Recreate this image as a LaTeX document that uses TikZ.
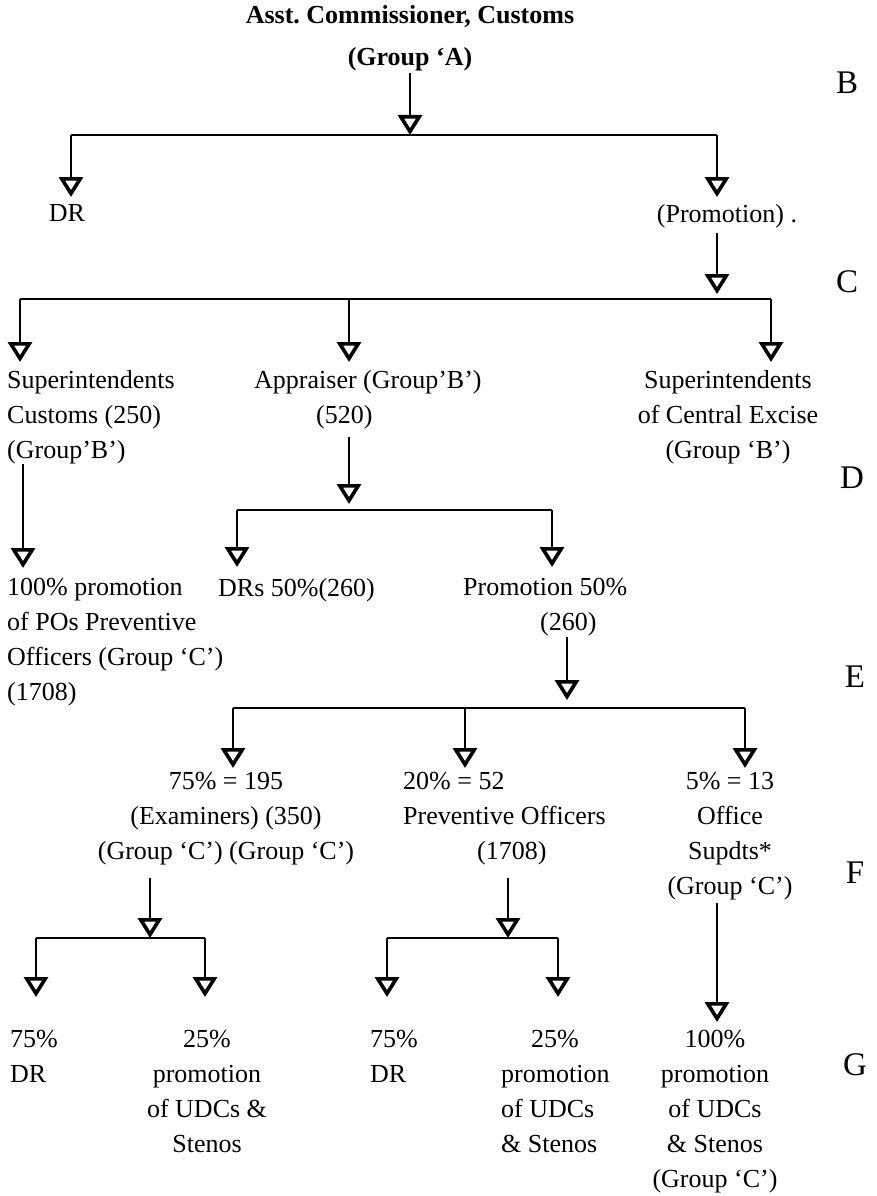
\documentclass[tikz,border=0pt]{standalone}
\usepackage{fontspec}
\setmainfont{Liberation Serif}
\usetikzlibrary{arrows.meta}
\frenchspacing
\begin{document}
\begin{tikzpicture}[x=1pt,y=-1pt,
  txt/.style={font=\fontsize{26}{35}\selectfont, inner sep=0pt},
  ttl/.style={font=\bfseries\fontsize{26}{42}\selectfont, inner sep=0pt, align=center},
  lvl/.style={font=\fontsize{33}{40}\selectfont, inner sep=0pt},
  bus/.style={line width=2.8pt},
  arr/.style={line width=2.6pt, -{Triangle[open,width=24pt,length=20pt,line width=3.6pt]}},
]
\useasboundingbox (0,0) rectangle (876,1196);

% ---- texts ----
\node[ttl, anchor=north] (title) at (410,5.4) {Asst. Commissioner, Customs\\(Group ‘A)};
\node[txt, anchor=north] (dr) at (67,204) {DR};
\node[txt, anchor=north] (prom) at (727,204) {(Promotion) .};
\node[txt, anchor=north west, align=left] (supC) at (7,370.4) {Superintendents\\Customs (250)\\(Group’B’)};
\node[txt, anchor=north west, align=left] (appr) at (254,370.4) {Appraiser (Group’B’)\\\hspace*{62pt}(520)};
\node[txt, anchor=north, align=center] (supE) at (728,370.4) {Superintendents\\of Central Excise\\(Group ‘B’)};
\node[txt, anchor=north west, align=left] (poC) at (7,578.4) {100\% promotion\\of POs Preventive\\Officers (Group ‘C’)\\(1708)};
\node[txt, anchor=north west] (drs) at (218,578.4) {DRs 50\%(260)};
\node[txt, anchor=north west, align=left] (prom50) at (463,578.4) {Promotion 50\%\\\hspace*{77pt}(260)};
\node[txt, anchor=north, align=center] (exam) at (226,772.4) {75\% = 195\\(Examiners) (350)\\(Group ‘C’) (Group ‘C’)};
\node[txt, anchor=north west, align=left] (prev) at (403,772.4) {20\% = 52\\Preventive Officers\\\hspace*{74pt}(1708)};
\node[txt, anchor=north, align=center] (off) at (730,772.4) {5\% = 13\\Office\\Supdts*\\(Group ‘C’)};
\node[txt, anchor=north west, align=left] (bA) at (10,1030.4) {75\%\\DR};
\node[txt, anchor=north, align=center] (bB) at (207,1030.4) {25\%\\promotion\\of UDCs \&\\Stenos};
\node[txt, anchor=north west, align=left] (bC) at (370,1030.4) {75\%\\DR};
\node[txt, anchor=north west, align=left] (bD) at (501,1030.4) {\hspace*{30pt}25\%\\promotion\\of UDCs\\\& Stenos};
\node[txt, anchor=north, align=center] (bE) at (715,1030.4) {100\%\\promotion\\of UDCs\\\& Stenos\\(Group ‘C’)};

% ---- level letters ----
\node[lvl] (lB) at (847,83) {B};
\node[lvl] (lC) at (847,282) {C};
\node[lvl] (lD) at (852,478) {D};
\node[lvl] (lE) at (855,677) {E};
\node[lvl] (lF) at (855,873) {F};
\node[lvl] (lG) at (855,1065) {G};

% ---- coordinates ----
\coordinate (b1L) at (71,135);  \coordinate (b1M) at (410,135); \coordinate (b1R) at (717,135);
\coordinate (t1L) at (71,197);  \coordinate (t1R) at (717,197);
\coordinate (b2L) at (20,299);  \coordinate (b2C) at (349,299); \coordinate (b2M) at (717,299); \coordinate (b2R) at (771,299);
\coordinate (t2L) at (20,362);  \coordinate (t2C) at (349,362); \coordinate (t2R) at (771,362);
\coordinate (tPO) at (23,568);
\coordinate (b3L) at (237,510); \coordinate (b3M) at (349,510); \coordinate (b3R) at (552,510);
\coordinate (t3L) at (237,567); \coordinate (t3R) at (552,567);
\coordinate (b4L) at (233,708); \coordinate (b4C) at (465,708); \coordinate (b4M) at (567,708); \coordinate (b4R) at (745,708);
\coordinate (t4L) at (233,768); \coordinate (t4C) at (465,768); \coordinate (t4R) at (745,768);
\coordinate (b5L) at (36,938);  \coordinate (b5M) at (150,938); \coordinate (b5R) at (205,938);
\coordinate (t5L) at (36,997);  \coordinate (t5R) at (205,997);
\coordinate (b6L) at (387,938); \coordinate (b6M) at (508,938); \coordinate (b6R) at (558,938);
\coordinate (t6L) at (387,997); \coordinate (t6R) at (558,997);
\coordinate (tOf) at (717,1022);

% ---- connectors ----
\draw[bus] (b1L) -- (b1R);
\draw[arr, shorten <=2pt] (title.south -| b1M) -- (b1M);
\draw[arr] (b1L) -- (t1L);
\draw[arr] (b1R) -- (t1R);

\draw[bus] (b2L) -- (b2R);
\draw[arr, shorten <=5pt, shorten >=5pt] (prom.south -| b2M) -- (b2M);
\draw[arr] (b2L) -- (t2L);
\draw[arr] (b2C) -- (t2C);
\draw[arr] (b2R) -- (t2R);

\draw[arr] (supC.south -| tPO) -- (tPO);

\draw[bus] (b3L) -- (b3R);
\draw[arr, shorten <=8pt, shorten >=6pt] (appr.south -| b3M) -- (b3M);
\draw[arr] (b3L) -- (t3L);
\draw[arr] (b3R) -- (t3R);

\draw[bus] (b4L) -- (b4R);
\draw[arr, shorten >=8pt] (prom50.south -| b4M) -- (b4M);
\draw[arr] (b4L) -- (t4L);
\draw[arr] (b4C) -- (t4C);
\draw[arr] (b4R) -- (t4R);

\draw[bus] (b5L) -- (b5R);
\draw[arr, shorten <=12pt] (exam.south -| b5M) -- (b5M);
\draw[arr] (b5L) -- (t5L);
\draw[arr] (b5R) -- (t5R);

\draw[bus] (b6L) -- (b6R);
\draw[arr, shorten <=12pt] (prev.south -| b6M) -- (b6M);
\draw[arr] (b6L) -- (t6L);
\draw[arr] (b6R) -- (t6R);

\draw[arr, shorten <=2pt] (off.south -| tOf) -- (tOf);
\end{tikzpicture}
\end{document}
